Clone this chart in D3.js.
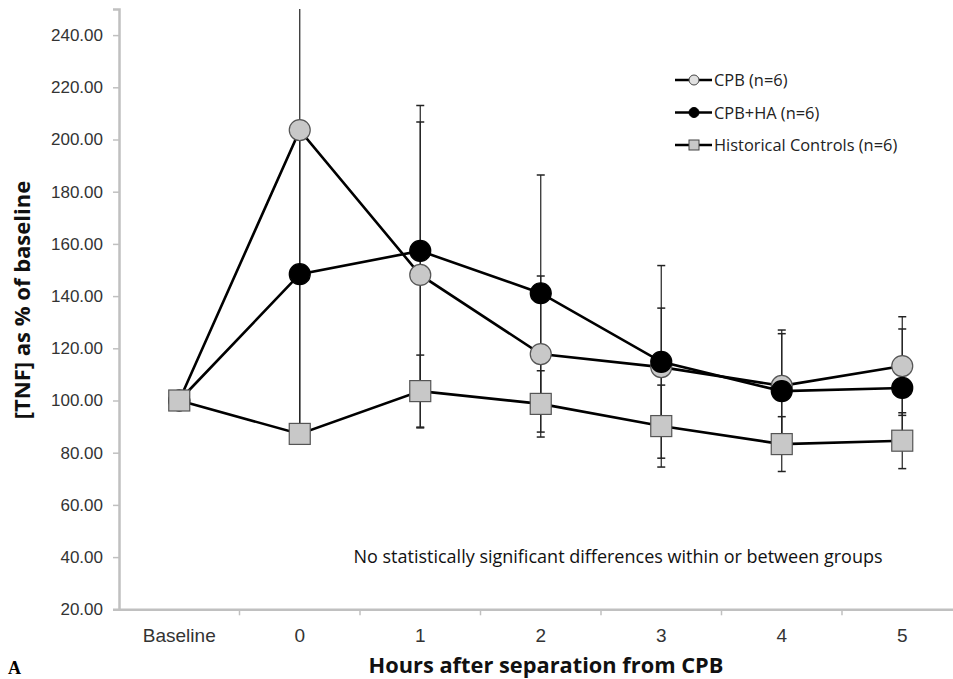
<!DOCTYPE html>
<html>
<head>
<meta charset="utf-8">
<script src="https://cdn.jsdelivr.net/npm/d3@7"></script>
<style>
  body { margin: 0; background: #fff; }
  svg { display: block; font-family: "Open Sans", sans-serif; }
</style>
</head>
<body>
<svg id="drawing_region"></svg>
<script>
// values (mean and SD, % of baseline)
const categories = ["Baseline", "0", "1", "2", "3", "4", "5"];
const cpb      = [100, 203.6, 148.1, 117.8, 112.8, 105.6, 113.2];
const cpbSd    = [0, 116, 58.6, 29.9, 22.6, 21.4, 18.9];
const cpbHa    = [100, 148.4, 157.3, 141.1, 114.8, 103.6, 104.8];
const cpbHaSd  = [0, 58, 55.7, 45.3, 36.9, 22, 22.6];
const hist     = [100, 87.2, 103.6, 98.7, 90.2, 83.3, 84.6];
const histSd   = [0, 3.8, 13.8, 12.7, 15.7, 10.5, 10.7];
const yTicks   = [20, 40, 60, 80, 100, 120, 140, 160, 180, 200, 220, 240];
const seriesNames = ["CPB (n=6)", "CPB+HA (n=6)", "Historical Controls (n=6)"];

const series = [
    { name: seriesNames[0], values: cpb,   sd: cpbSd,   shape: "circle", fill: "#c8c8c8", stroke: "#555" },
    { name: seriesNames[1], values: cpbHa, sd: cpbHaSd, shape: "circle", fill: "#000",    stroke: "#000" },
    { name: seriesNames[2], values: hist,  sd: histSd,  shape: "square", fill: "#c8c8c8", stroke: "#555" }
];

const width = 953, height = 679;
const plotLeft = 119, plotTop = 9, plotBottom = 609.3;

const svg = d3.select("#drawing_region")
    .attr("width", width)
    .attr("height", height);

const xscale = d3.scaleBand()
    .domain(categories)
    .range([plotLeft, plotLeft + 7 * 120.5]);
const cx = c => xscale(c) + xscale.bandwidth() / 2;

const yscale = d3.scaleLinear()
    .domain([20, 250])
    .range([plotBottom, plotTop]);

svg.append("defs").append("clipPath").attr("id", "plot")
    .append("rect")
    .attr("x", plotLeft).attr("y", plotTop)
    .attr("width", width - plotLeft).attr("height", plotBottom - plotTop);

// y axis
const yaxis = d3.axisLeft(yscale).tickValues(yTicks).tickSize(6).tickFormat(d3.format(".2f"));
const yg = svg.append("g").attr("transform", `translate(${plotLeft},0)`).call(yaxis);
yg.select(".domain").attr("stroke", "#c0c0c0").attr("stroke-width", 2.5);
yg.selectAll(".tick line").attr("stroke", "#c0c0c0").attr("stroke-width", 1.5);
yg.selectAll(".tick text").attr("font-size", 17).attr("fill", "#333").attr("x", -16);

// x axis
const xaxis = d3.axisBottom(xscale).tickSize(0);
const xg = svg.append("g").attr("transform", `translate(0,${plotBottom})`).call(xaxis);
xg.select(".domain").attr("stroke", "#c0c0c0").attr("stroke-width", 2.5);
xg.selectAll(".tick text").attr("font-size", 19).attr("fill", "#333")
    .attr("y", 33).attr("dy", 0);
xg.selectAll(".bound")
    .data(categories)
    .join("line")
    .attr("class", "bound")
    .attr("x1", d => xscale(d) + xscale.bandwidth())
    .attr("x2", d => xscale(d) + xscale.bandwidth())
    .attr("y1", 0).attr("y2", 6)
    .attr("stroke", "#c0c0c0").attr("stroke-width", 1.5);

const plot = svg.append("g").attr("clip-path", "url(#plot)");

// error bars
series.forEach(s => {
    const g = plot.append("g");
    const rows = categories.map((c, i) => ({ c: c, v: s.values[i], sd: s.sd[i] })).filter(d => d.sd > 0);
    g.selectAll(".eb").data(rows).join("line")
        .attr("x1", d => cx(d.c)).attr("x2", d => cx(d.c))
        .attr("y1", d => yscale(d.v + d.sd)).attr("y2", d => yscale(d.v - d.sd))
        .attr("stroke", "#222").attr("stroke-width", 1.2);
    [1, -1].forEach(sign => {
        g.selectAll(".cap" + (sign > 0 ? "u" : "d")).data(rows).join("line")
            .attr("class", "cap" + (sign > 0 ? "u" : "d"))
            .attr("x1", d => cx(d.c) - 4).attr("x2", d => cx(d.c) + 4)
            .attr("y1", d => yscale(d.v + sign * d.sd)).attr("y2", d => yscale(d.v + sign * d.sd))
            .attr("stroke", "#222").attr("stroke-width", 1.5);
    });
});

// lines and markers
const line = d3.line().x((d, i) => cx(categories[i])).y(d => yscale(d));
series.forEach(s => {
    plot.append("path")
        .datum(s.values)
        .attr("d", line)
        .attr("fill", "none")
        .attr("stroke", "#000")
        .attr("stroke-width", 2.6);
    const g = plot.append("g");
    if (s.shape === "circle") {
        g.selectAll("circle").data(s.values).join("circle")
            .attr("cx", (d, i) => cx(categories[i]))
            .attr("cy", d => yscale(d))
            .attr("r", 10.5)
            .attr("fill", s.fill).attr("stroke", s.stroke).attr("stroke-width", 1.2);
    } else {
        g.selectAll("rect").data(s.values).join("rect")
            .attr("x", (d, i) => cx(categories[i]) - 10.5)
            .attr("y", d => yscale(d) - 10.5)
            .attr("width", 21).attr("height", 21)
            .attr("fill", s.fill).attr("stroke", s.stroke).attr("stroke-width", 1.2);
    }
});

// legend
const legend = svg.append("g").attr("transform", "translate(675,80)");
series.forEach((s, i) => {
    const row = legend.append("g").attr("transform", `translate(0,${i * 32.5})`);
    row.append("line").attr("x1", 0).attr("x2", 37).attr("y1", 0).attr("y2", 0)
        .attr("stroke", "#000").attr("stroke-width", 2.6);
    if (s.shape === "circle") {
        row.append("circle").attr("cx", 19).attr("cy", 0).attr("r", 5)
            .attr("fill", i === 0 ? "#e0e0e0" : "#000").attr("stroke", i === 0 ? "#444" : "#000");
    } else {
        row.append("rect").attr("x", 14).attr("y", -5).attr("width", 10).attr("height", 10)
            .attr("fill", s.fill).attr("stroke", "#444");
    }
    row.append("text").attr("x", 39).attr("y", 6)
        .attr("font-size", 16.4).attr("fill", "#222").text(s.name);
});

// annotation
svg.append("text")
    .attr("x", 618).attr("y", 563)
    .attr("text-anchor", "middle")
    .attr("font-size", 18).attr("fill", "#111")
    .text("No statistically significant differences within or between groups");

// axis titles
svg.append("text")
    .attr("transform", "translate(30,300) rotate(-90)")
    .attr("text-anchor", "middle")
    .attr("font-size", 22).attr("font-weight", "bold").attr("fill", "#111")
    .text("[TNF] as % of baseline");

svg.append("text")
    .attr("x", 546).attr("y", 673)
    .attr("text-anchor", "middle")
    .attr("font-size", 21.8).attr("font-weight", "bold").attr("fill", "#111")
    .text("Hours after separation from CPB");

svg.append("text")
    .attr("x", 8).attr("y", 674)
    .attr("font-family", "Liberation Serif, serif")
    .attr("font-size", 18).attr("font-weight", "bold")
    .text("A");
</script>
</body>
</html>
